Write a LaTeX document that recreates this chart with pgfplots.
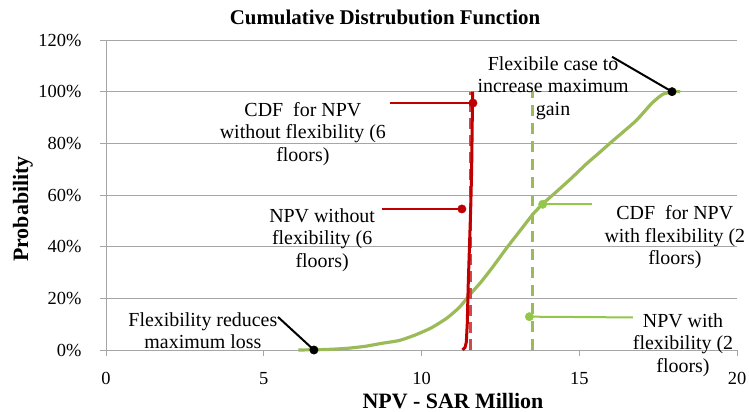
\documentclass[border=0pt]{standalone}
\usepackage{pgfplots}
\pgfplotsset{compat=1.18}
\usepackage{fontspec}
\setmainfont{Liberation Serif}
\definecolor{cgreen}{HTML}{9BBB59}
\definecolor{cred}{HTML}{C00000}
\definecolor{cred2}{HTML}{D04848}
\definecolor{cgreen2}{HTML}{92C84A}
\definecolor{cgrid}{HTML}{A6A6A6}
\tikzset{annot/.style={font=\fontsize{20}{22.5}\selectfont, align=center, inner sep=0pt}}
\begin{document}
\begin{tikzpicture}
\begin{axis}[at={(0,0)}, anchor=south west, scale only axis,
  width=631bp, height=310bp,
  xmin=0, xmax=20, ymin=0, ymax=1.2, clip=false,
  axis x line=bottom, axis y line=left,
  axis line style={cgrid, line width=0.8bp, -},
  xtick={0,5,10,15,20}, xticklabels={0,5,10,15,20},
  ytick={0,0.2,0.4,0.6,0.8,1.0,1.2},
  yticklabels={0\%,20\%,40\%,60\%,80\%,100\%,120\%},
  tick align=outside, major tick length=6bp,
  tick style={cgrid, line width=0.8bp},
  ymajorgrids, grid style={cgrid, line width=0.8bp},
  ticklabel style={font=\fontsize{18.5}{22}\selectfont},
  xticklabel style={yshift=-13bp},
  yticklabel style={xshift=-15bp},
]
% green CDF (with flexibility)
\addplot[cgreen, line width=3.2bp, no marks, smooth, tension=0.35] coordinates {
(6.1,0) (6.6,0.001) (7.0,0.002) (7.6,0.006) (8.2,0.014) (8.7,0.025) (9.3,0.037)
(9.8,0.058) (10.3,0.085) (10.8,0.123) (11.2,0.165) (11.54,0.215) (11.9,0.265)
(12.28,0.325) (12.7,0.395) (13.1,0.458) (13.54,0.527) (13.9,0.572) (14.28,0.613)
(14.75,0.665) (15.24,0.722) (15.6,0.76) (15.97,0.80) (16.4,0.845) (16.82,0.89)
(17.3,0.955) (17.65,0.99) (18.0,1.0) (18.2,1.0)};
% red dashed mean
\addplot[cred2, line width=3.2bp, dash pattern=on 11bp off 6bp, no marks] coordinates {(11.55,0) (11.55,1.0)};
% red CDF (without flexibility)
\addplot[cred, line width=3bp, no marks] coordinates {
(11.30,0) (11.38,0.01) (11.42,0.03) (11.45,0.1) (11.48,0.25) (11.52,0.4)
(11.56,0.55) (11.59,0.7) (11.61,0.9) (11.62,1.0)};
% green dashed mean
\addplot[cgreen, line width=3bp, dash pattern=on 11bp off 7bp, no marks] coordinates {(13.51,0) (13.51,1.0)};
% annotation lines
\addplot[cred, line width=2bp, no marks] coordinates {(8.99,0.956) (11.63,0.956)};
\addplot[cred, only marks, mark=*, mark size=4.2bp] coordinates {(11.63,0.956)};
\addplot[cred, line width=2bp, no marks] coordinates {(8.75,0.546) (11.28,0.546)};
\addplot[cred, only marks, mark=*, mark size=4.2bp] coordinates {(11.28,0.546)};
\addplot[cgreen2, line width=2bp, no marks] coordinates {(13.84,0.564) (15.4,0.564)};
\addplot[cgreen2, only marks, mark=*, mark size=4.2bp] coordinates {(13.84,0.564)};
\addplot[cgreen2, line width=2bp, no marks] coordinates {(13.42,0.129) (16.7,0.126)};
\addplot[cgreen2, only marks, mark=*, mark size=4.2bp] coordinates {(13.42,0.129)};
\addplot[black, line width=2bp, no marks] coordinates {(16.04,1.135) (17.94,1.0)};
\addplot[black, only marks, mark=*, mark size=4.2bp] coordinates {(17.94,1.0)};
\addplot[black, line width=2bp, no marks] coordinates {(5.45,0.128) (6.59,0.0)};
\addplot[black, only marks, mark=*, mark size=4.2bp] coordinates {(6.59,0.0)};
% annotation texts
\node[annot] at (axis cs:6.24,0.836) {CDF\ \ for NPV\\without flexibility (6\\floors)};
\node[annot] at (axis cs:6.85,0.426) {NPV without\\flexibility (6\\floors)};
\node[annot] at (axis cs:14.17,1.014) {Flexibile case to\\increase maximum\\gain};
\node[annot] at (axis cs:18.03,0.437) {CDF\ \ for NPV\\with flexibility (2\\floors)};
\node[annot] at (axis cs:18.29,0.019) {NPV with\\flexibility (2\\floors)};
\node[annot] at (axis cs:3.07,0.074) {Flexibility reduces\\maximum loss};
\end{axis}
\node[font=\bfseries\fontsize{21}{24}\selectfont] at (279bp,333bp) {Cumulative Distrubution Function};
\node[font=\bfseries\fontsize{22}{26}\selectfont, rotate=90] at (-83bp,141bp) {Probability};
\node[font=\bfseries\fontsize{22}{26}\selectfont, anchor=north, inner sep=0pt] at (347bp,-43bp) {NPV - SAR Million};
\pgfresetboundingbox
\path (-106bp,-62bp) rectangle (643bp,350bp);
\end{tikzpicture}
\end{document}
